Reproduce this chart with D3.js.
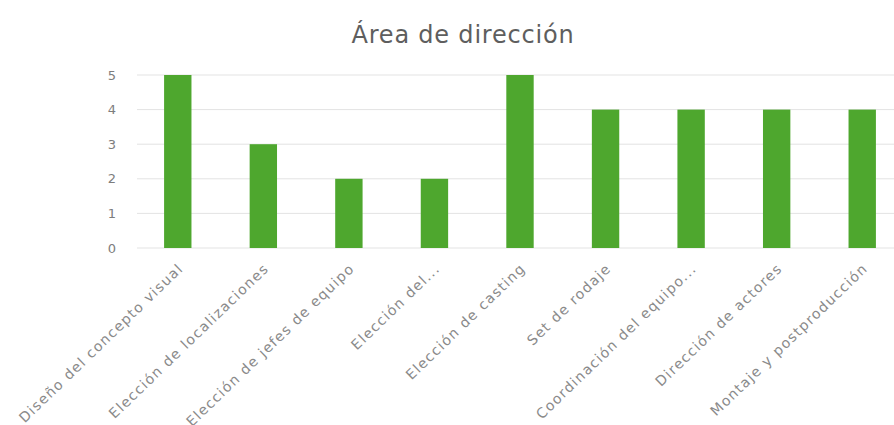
<!DOCTYPE html>
<meta charset="utf-8">
<title>Área de dirección</title>
<script src="https://d3js.org/d3.v7.min.js"></script>
<style>
body { margin: 0; background: #fff; font-family: "DejaVu Sans", sans-serif; }
.title { font-size: 24px; fill: #5e5e5e; letter-spacing: 0.8px; }
.ylab text { font-family: "DejaVu Sans", sans-serif; fill: #7d7d7d; font-size: 13px; }
.xlab text { font-family: "DejaVu Sans", sans-serif; fill: #8a8a8a; font-size: 14px; letter-spacing: 1.3px; }
.grid line { stroke: #e3e3e3; }
</style>
<body>
<div id="chart"></div>
<script>
var categories = [
  "Diseño del concepto visual",
  "Elección de localizaciones",
  "Elección de jefes de equipo",
  "Elección del...",
  "Elección de casting",
  "Set de rodaje",
  "Coordinación del equipo...",
  "Dirección de actores",
  "Montaje y postproducción"
];
var values = [5, 3, 2, 2, 5, 4, 4, 4, 4];
var yTicks = [0, 1, 2, 3, 4, 5];

var width = 894, height = 425;

var svg = d3.select("#chart").append("svg")
  .attr("width", width)
  .attr("height", height);

var x = d3.scaleBand()
  .domain(categories)
  .range([135, 905])
  .paddingInner(0.68)
  .paddingOuter(0.34);

var y = d3.scaleLinear()
  .domain([0, 5])
  .range([248, 75]);

svg.append("text")
  .attr("class", "title")
  .attr("x", 463)
  .attr("y", 43)
  .attr("text-anchor", "middle")
  .text("Área de dirección");

// gridlines
svg.append("g")
  .attr("class", "grid")
  .selectAll("line")
  .data(yTicks)
  .enter().append("line")
  .attr("x1", 137)
  .attr("x2", width)
  .attr("y1", function(d) { return y(d); })
  .attr("y2", function(d) { return y(d); });

// y axis labels
var yAxis = svg.append("g")
  .attr("class", "ylab")
  .attr("transform", "translate(116,0)")
  .call(d3.axisLeft(y).tickValues(yTicks).tickFormat(d3.format("d")).tickSize(0).tickPadding(0));
yAxis.select(".domain").remove();

// bars
svg.append("g")
  .selectAll("rect")
  .data(values)
  .enter().append("rect")
  .attr("x", function(d, i) { return x(categories[i]); })
  .attr("width", x.bandwidth())
  .attr("y", function(d) { return y(d); })
  .attr("height", function(d) { return y(0) - y(d); })
  .attr("fill", "#4ea72e");

// x axis labels
var xAxis = svg.append("g")
  .attr("class", "xlab")
  .attr("transform", "translate(0,248)")
  .call(d3.axisBottom(x).tickSize(0).tickPadding(0));
xAxis.select(".domain").remove();
xAxis.selectAll(".tick text")
  .attr("text-anchor", "end")
  .attr("dy", "0.35em")
  .attr("transform", "translate(3,18) rotate(-44)");
</script>
</body>
